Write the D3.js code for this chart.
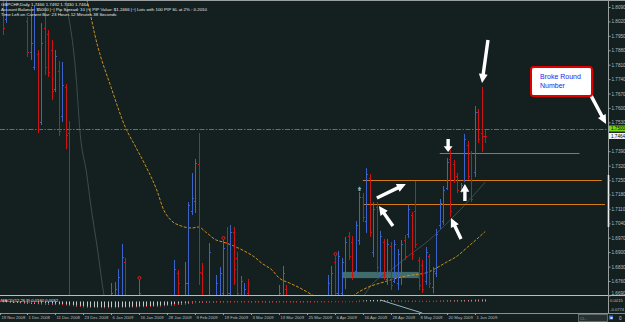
<!DOCTYPE html>
<html>
<head>
<meta charset="utf-8">
<script src="https://cdn.jsdelivr.net/npm/d3@7"></script>
<style>
html,body{margin:0;padding:0;background:#142020;}
svg{display:block;}
text{font-family:"Liberation Sans",Arial,sans-serif;}
</style>
</head>
<body>
<div id="chart"></div>
<script>
// GBPCHF daily, one bar per trading day from 19 Nov 2008 (bar 0) to 4 Jun 2009 (bar 139)
var opens = [
1.8300,1.8150,1.8030,1.8200,1.8300,1.8390,1.8280,1.8180,1.8020,1.7870,
1.7800,1.7860,1.7530,1.7990,1.7960,1.7880,1.7690,1.7780,1.7560,1.7700,
1.7480,1.6600,1.6400,1.6250,1.6100,1.6200,1.6050,1.5900,1.6050,1.6200,
1.6350,1.6500,1.6400,1.6450,1.6500,1.6600,1.6850,1.6550,1.6400,1.6500,
1.6500,1.6650,1.6450,1.6300,1.6150,1.6250,1.6350,1.6300,1.6400,1.6500,
1.6600,1.6800,1.6650,1.6520,1.6750,1.7100,1.7150,1.7330,1.6800,1.6650,
1.6550,1.6650,1.6500,1.6600,1.6700,1.6950,1.6700,1.7000,1.6870,1.6550,
1.6500,1.6700,1.6450,1.6350,1.6250,1.6300,1.6200,1.6100,1.6250,1.6400,
1.6550,1.6650,1.6720,1.6500,1.6350,1.6200,1.6100,1.6000,1.6100,1.6200,
1.6150,1.6250,1.6350,1.6450,1.6550,1.6650,1.6850,1.6700,1.6700,1.6780,
1.6980,1.6950,1.6810,1.6960,1.7170,1.7050,1.7260,1.6900,1.7120,1.6800,
1.6950,1.6770,1.6930,1.6760,1.6750,1.6800,1.6960,1.6990,1.7080,1.7100,
1.6860,1.6840,1.6760,1.6880,1.6730,1.6800,1.7030,1.7050,1.7210,1.7350,
1.7330,1.7270,1.7195,1.7250,1.7420,1.7380,1.7290,1.7580,1.7480,1.7466];
var highs = [
1.8400,1.8200,1.8180,1.8350,1.8420,1.8450,1.8380,1.8300,1.8041,1.8090,
1.8100,1.7881,1.8012,1.8090,1.7978,1.7930,1.7881,1.7828,1.7823,1.7716,
1.7536,1.6650,1.6500,1.6400,1.6300,1.6350,1.6200,1.6100,1.6250,1.6400,
1.6550,1.6640,1.6750,1.6755,1.6818,1.6940,1.6872,1.6660,1.6600,1.6650,
1.6765,1.6670,1.6550,1.6400,1.6300,1.6400,1.6500,1.6450,1.6550,1.6650,
1.6862,1.6813,1.6670,1.6852,1.7143,1.7284,1.7352,1.7478,1.6847,1.6670,
1.6944,1.6670,1.6789,1.6828,1.6959,1.7022,1.7032,1.7022,1.6901,1.6784,
1.6750,1.6770,1.6600,1.6500,1.6400,1.6450,1.6350,1.6300,1.6450,1.6600,
1.6741,1.6833,1.6741,1.6600,1.6450,1.6350,1.6250,1.6150,1.6250,1.6350,
1.6300,1.6400,1.6500,1.6600,1.6789,1.6833,1.6881,1.6906,1.6872,1.6974,
1.6998,1.6978,1.7051,1.7192,1.7187,1.7308,1.7279,1.7143,1.7143,1.7003,
1.6964,1.6964,1.6949,1.6959,1.6915,1.6959,1.6983,1.7129,1.7095,1.7245,
1.6876,1.6862,1.6925,1.6891,1.6828,1.7013,1.7158,1.7221,1.7357,1.7396,
1.7347,1.7284,1.7236,1.7474,1.7440,1.7391,1.7609,1.7595,1.7702,1.7492];
var lows = [
1.8140,1.7954,1.8012,1.8140,1.8200,1.8250,1.8150,1.8130,1.7847,1.7833,
1.7784,1.7478,1.7517,1.7760,1.7750,1.7639,1.7677,1.7464,1.7532,1.7400,
1.6550,1.6350,1.6200,1.6050,1.5950,1.6000,1.5850,1.5800,1.5950,1.6100,
1.6250,1.6300,1.6350,1.6400,1.6450,1.6550,1.6500,1.6350,1.6300,1.6400,
1.6450,1.6400,1.6250,1.6100,1.6000,1.6150,1.6200,1.6150,1.6300,1.6400,
1.6500,1.6550,1.6450,1.6480,1.6650,1.7080,1.7090,1.6741,1.6600,1.6400,
1.6500,1.6450,1.6450,1.6500,1.6600,1.6600,1.6600,1.6741,1.6600,1.6500,
1.6450,1.6400,1.6300,1.6200,1.6100,1.6150,1.6050,1.6000,1.6150,1.6300,
1.6450,1.6550,1.6450,1.6300,1.6150,1.6050,1.5950,1.5850,1.5950,1.6050,
1.6000,1.6150,1.6250,1.6350,1.6450,1.6550,1.6600,1.6600,1.6650,1.6720,
1.6862,1.6765,1.6789,1.6935,1.7046,1.6993,1.6974,1.6876,1.6799,1.6779,
1.6765,1.6741,1.6716,1.6750,1.6716,1.6741,1.6862,1.6969,1.6862,1.6920,
1.6716,1.6702,1.6741,1.6726,1.6700,1.6779,1.7013,1.7032,1.7202,1.7071,
1.7236,1.7187,1.7187,1.7240,1.7250,1.7143,1.7265,1.7430,1.7386,1.7430];
var closes = [
1.8180,1.7990,1.8150,1.8300,1.8390,1.8280,1.8180,1.8250,1.7870,1.7915,
1.8050,1.7500,1.7915,1.7800,1.7774,1.7680,1.7850,1.7490,1.7711,1.7470,
1.6650,1.6400,1.6250,1.6100,1.6200,1.6050,1.5900,1.6050,1.6200,1.6350,
1.6500,1.6380,1.6700,1.6720,1.6780,1.6876,1.6550,1.6400,1.6500,1.6600,
1.6700,1.6450,1.6300,1.6150,1.6250,1.6350,1.6300,1.6400,1.6500,1.6600,
1.6820,1.6750,1.6500,1.6750,1.7130,1.7163,1.7333,1.6804,1.6650,1.6550,
1.6900,1.6500,1.6750,1.6800,1.6920,1.6700,1.7000,1.6818,1.6700,1.6760,
1.6720,1.6450,1.6350,1.6250,1.6300,1.6200,1.6100,1.6250,1.6400,1.6550,
1.6700,1.6800,1.6500,1.6350,1.6200,1.6100,1.6000,1.6100,1.6200,1.6150,
1.6250,1.6350,1.6450,1.6550,1.6750,1.6800,1.6700,1.6880,1.6850,1.6950,
1.6880,1.6790,1.7030,1.7170,1.7070,1.7280,1.7000,1.7110,1.6830,1.6980,
1.6790,1.6940,1.6740,1.6940,1.6890,1.6940,1.6880,1.7110,1.6890,1.6940,
1.6740,1.6720,1.6900,1.6750,1.6810,1.6990,1.7140,1.7200,1.7340,1.7100,
1.7250,1.7200,1.7225,1.7450,1.7270,1.7160,1.7580,1.7450,1.7466,1.7464];

// moving averages (bar index, price) read where they are visible
var orangeMaBars = [22,25,28,32,36,39,42,45,47,49,52,55,57,59,62,64,67,70,73,75,78,80,83,86,89,92,96,100,102,105,110,114,118,122,128,131,134,137,139];
var orangeMaValues = [1.8270,1.8124,1.7906,1.7697,1.7507,1.7410,1.7313,1.7202,1.7105,1.7056,1.7027,1.7017,1.7022,1.6998,1.6959,1.6949,1.6930,1.6906,1.6876,1.6847,1.6813,1.6775,1.6750,1.6726,1.6697,1.6668,1.6648,1.6668,1.6697,1.6726,1.6755,1.6775,1.6789,1.6799,1.6852,1.6881,1.6925,1.6969,1.7000];
var grayLeftBars = [17,19,22,23,25,26,28,30,31];
var grayLeftValues = [1.8320,1.8124,1.7736,1.7493,1.7275,1.7143,1.6920,1.6682,1.6600];
var grayRightBars = [103,106,112,117,123,129,135,139];
var grayRightValues = [1.6650,1.6731,1.6813,1.6881,1.6959,1.7056,1.7163,1.7240];

// MACD(12,26,9): main histogram and signal
var macdMain = [
-0.004,-0.006,-0.007,-0.009,-0.011,-0.012,-0.014,-0.016,-0.018,-0.019,
-0.020,-0.022,-0.023,-0.024,-0.025,-0.026,-0.027,-0.028,-0.029,-0.030,
-0.034,-0.038,-0.042,-0.045,-0.047,-0.049,-0.051,-0.052,-0.052,-0.052,
-0.051,-0.050,-0.049,-0.048,-0.047,-0.047,-0.046,-0.046,-0.046,-0.045,
-0.044,-0.044,-0.044,-0.044,-0.043,-0.042,-0.040,-0.038,-0.036,-0.034,
-0.031,-0.028,-0.026,-0.023,-0.019,-0.016,-0.013,-0.011,-0.010,-0.009,
-0.008,-0.008,-0.007,-0.007,-0.006,-0.006,-0.006,-0.005,-0.005,-0.005,
-0.005,-0.005,-0.006,-0.006,-0.006,-0.006,-0.007,-0.007,-0.006,-0.006,
-0.005,-0.005,-0.005,-0.005,-0.006,-0.006,-0.006,-0.006,-0.006,-0.005,
-0.005,-0.004,-0.004,-0.003,-0.003,-0.002,-0.002,-0.001,-0.001,0.000,
0.001,0.002,0.004,0.006,0.008,0.010,0.011,0.012,0.012,0.011,
0.010,0.009,0.008,0.007,0.006,0.005,0.005,0.005,0.005,0.005,
0.004,0.004,0.004,0.004,0.004,0.005,0.006,0.007,0.008,0.009,
0.010,0.010,0.011,0.012,0.012,0.013,0.014,0.015,0.016,0.016];
var macdSignal = [
0.010,0.008,0.006,0.004,0.002,0.000,-0.002,-0.004,-0.006,-0.008,
-0.010,-0.012,-0.014,-0.016,-0.018,-0.020,-0.022,-0.024,-0.026,-0.028,
-0.030,-0.033,-0.036,-0.039,-0.042,-0.045,-0.047,-0.049,-0.050,-0.051,
-0.052,-0.052,-0.052,-0.051,-0.050,-0.049,-0.048,-0.047,-0.046,-0.046,
-0.045,-0.044,-0.043,-0.042,-0.040,-0.038,-0.036,-0.034,-0.031,-0.028,
-0.025,-0.022,-0.019,-0.016,-0.013,-0.010,-0.008,-0.006,-0.005,-0.004,
-0.004,-0.004,-0.004,-0.004,-0.004,-0.004,-0.004,-0.004,-0.004,-0.004,
-0.004,-0.004,-0.004,-0.004,-0.004,-0.004,-0.004,-0.004,-0.004,-0.004,
-0.004,-0.004,-0.004,-0.004,-0.004,-0.004,-0.004,-0.004,-0.004,-0.004,
-0.004,-0.004,-0.004,-0.004,-0.003,-0.003,-0.003,-0.003,-0.003,-0.003,
-0.002,-0.002,-0.002,-0.002,-0.001,-0.001,0.000,0.000,0.001,0.001,
0.002,0.002,0.002,0.002,0.002,0.002,0.002,0.002,0.002,0.002,
0.002,0.002,0.002,0.002,0.002,0.002,0.002,0.003,0.003,0.003,
0.003,0.003,0.003,0.003,0.003,0.003,0.003,0.003,0.003,0.003];
var macdTrend = [[109, 0.012], [121, -0.094]];
var macdLabels = ["0.0015", "-0.0774"];
var macdTitle = "MACD(12,26,9) 0.0160 0.0032";

// drawn objects
var roundLevel = 1.7500;
var bidPrice = 1.7464;
var blueLevel = {price: 1.7381, from: 126, to: 166};
var orangeLevels = [{price: 1.7248, from: 104, to: 172.4}, {price: 1.7134, from: 104, to: 173.3}];
var zoneBox = {from: 98, to: 120, top: 1.6804, bottom: 1.6774};
var circleBars = [40, 64, 96];
var tealMarkBar = 103;
var arrowTails = [[139.8,1.7930],[128.4,1.7449],[108.0,1.7163],[112.6,1.7027],[133.2,1.7148],[132.1,1.6964],[169.3,1.7660]];
var arrowHeads = [[138.1,1.7721],[128.4,1.7386],[116.3,1.7231],[108.6,1.7124],[133.2,1.7231],[129.2,1.7066],[173.6,1.7522]];
var calloutLines = ["Broke Round", "Number"];

var priceTicks = [1.8090,1.8020,1.7950,1.7880,1.7810,1.7740,1.7670,1.7600,1.7530,1.7460,1.7390,1.7320,1.7250,1.7180,1.7110,1.7040,1.6970,1.6900,1.6830,1.6760,1.6690];
var dateLabels = ["19 Nov 2008","1 Dec 2008","11 Dec 2008","23 Dec 2008","6 Jan 2009","16 Jan 2009","28 Jan 2009","9 Feb 2009","19 Feb 2009","3 Mar 2009","13 Mar 2009","25 Mar 2009","6 Apr 2009","16 Apr 2009","28 Apr 2009","8 May 2009","20 May 2009","1 Jun 2009"];
var headerLines = [
  "GBPCHF,Daily  1.7466 1.7492 1.7430 1.7464",
  "Account Balance: $5000 |~| Pip Spread: 10 |~| PIP Value: $1.2466 |~| Lots with 100 PIP SL at 2% : 0.2010",
  "Time Left on Current Bar: 23 Hours 12 Minutes 38 Seconds"
];

var W = 625, H = 322, plotR = 608, mainB = 295, macdT = 296, macdB = 312, timeT = 313;
var bg = '#142020', upColor = '#3e62cc', downColor = '#cc1414', axisColor = '#b8bcbc';

var svg = d3.select("#chart").append("svg").attr("width", W).attr("height", H);
svg.append("rect").attr("width", W).attr("height", H).attr("fill", bg);
var defs = svg.append("defs");
defs.append("clipPath").attr("id", "mainClip").append("rect")
    .attr("x", 0).attr("y", 0).attr("width", plotR).attr("height", mainB);
defs.append("clipPath").attr("id", "fullClip").append("rect")
    .attr("x", 0).attr("y", 0).attr("width", W).attr("height", mainB);
defs.append("clipPath").attr("id", "macdClip").append("rect")
    .attr("x", 0).attr("y", macdT).attr("width", plotR).attr("height", timeT - macdT);

var x = d3.scaleLinear().domain([0, 174]).range([-0.5, -0.5 + 174 * 3.494]);
var y = d3.scaleLinear().domain([1.6690, 1.8124]).range([295.4, 0]);
var yM = d3.scaleLinear().domain([-0.0774, 0.0315]).range([311, 297.6]);
function px(i){ return Math.round(x(i)) + 0.5; }

var main = svg.append("g").attr("clip-path", "url(#mainClip)");

// zone rectangle
main.append("rect")
    .attr("x", x(zoneBox.from)).attr("y", y(zoneBox.top))
    .attr("width", x(zoneBox.to) - x(zoneBox.from)).attr("height", y(zoneBox.bottom) - y(zoneBox.top))
    .attr("fill", "#4f8584").attr("opacity", 0.75);

// moving averages
var maLine = d3.line().curve(d3.curveMonotoneX)
    .x(function(d){ return x(d[0]); }).y(function(d){ return y(d[1]); });
main.append("path").datum(d3.zip(grayLeftBars, grayLeftValues)).attr("d", maLine)
    .attr("fill", "none").attr("stroke", "#3c4c4c").attr("stroke-width", 1);
main.append("path").datum(d3.zip(grayRightBars, grayRightValues)).attr("d", maLine)
    .attr("fill", "none").attr("stroke", "#3c4c4c").attr("stroke-width", 1);
main.append("path").datum(d3.zip(orangeMaBars, orangeMaValues)).attr("d", maLine)
    .attr("fill", "none").attr("stroke", "#c8921e").attr("stroke-width", 1)
    .attr("stroke-dasharray", "3,1.5");

// horizontal levels
main.append("line").attr("x1", 0).attr("x2", plotR)
    .attr("y1", Math.round(y(roundLevel)) + 0.5).attr("y2", Math.round(y(roundLevel)) + 0.5)
    .attr("stroke", "#4a8c1c").attr("stroke-width", 1).attr("stroke-dasharray", "5,1.5,1.5,1.5");
main.append("line").attr("x1", x(blueLevel.from)).attr("x2", x(blueLevel.to))
    .attr("y1", Math.round(y(blueLevel.price)) + 0.5).attr("y2", Math.round(y(blueLevel.price)) + 0.5)
    .attr("stroke", "#4c86bc").attr("stroke-width", 1);
main.selectAll(".olevel").data(orangeLevels).enter().append("line").attr("class", "olevel")
    .attr("x1", function(d){ return x(d.from); }).attr("x2", function(d){ return x(d.to); })
    .attr("y1", function(d){ return Math.round(y(d.price)) + 0.5; })
    .attr("y2", function(d){ return Math.round(y(d.price)) + 0.5; })
    .attr("stroke", "#d47a16").attr("stroke-width", 1);

// OHLC bars
var bars = main.selectAll(".bar").data(d3.range(opens.length)).enter().append("g").attr("class", "bar")
    .attr("stroke", function(i){ return closes[i] > opens[i] ? upColor : downColor; })
    .attr("stroke-width", 1);
bars.append("line")
    .attr("x1", px).attr("x2", px)
    .attr("y1", function(i){ return y(highs[i]); }).attr("y2", function(i){ return y(lows[i]); });
bars.append("line")
    .attr("x1", function(i){ return px(i) - 1.5; }).attr("x2", px)
    .attr("y1", function(i){ return Math.round(y(opens[i])) + 0.5; })
    .attr("y2", function(i){ return Math.round(y(opens[i])) + 0.5; });
bars.append("line")
    .attr("x1", px).attr("x2", function(i){ return px(i) + 1.5; })
    .attr("y1", function(i){ return Math.round(y(closes[i])) + 0.5; })
    .attr("y2", function(i){ return Math.round(y(closes[i])) + 0.5; });

// markers
main.selectAll(".circ").data(circleBars).enter().append("circle").attr("class", "circ")
    .attr("cx", px).attr("cy", function(i){ return y(highs[i]) - 2; }).attr("r", 1.5)
    .attr("fill", "none").attr("stroke", "#e02424").attr("stroke-width", 0.9);
var tx = px(tealMarkBar), ty = y(highs[tealMarkBar]) - 3;
main.append("path")
    .attr("d", "M" + tx + "," + (ty - 2.5) + "L" + (tx + 2) + "," + ty + "L" + (tx + 1) + "," + ty +
               "L" + (tx + 1) + "," + (ty + 2) + "L" + (tx - 1) + "," + (ty + 2) + "L" + (tx - 1) + "," + ty +
               "L" + (tx - 2) + "," + ty + "Z")
    .attr("fill", "#7fb0b0");

// header text
svg.selectAll(".hdr").data(headerLines).enter().append("text").attr("class", "hdr")
    .attr("x", 1).attr("y", function(d, k){ return 5.5 + k * 5; })
    .attr("font-size", "4.4px").attr("fill", "#e6e6e6").text(function(d){ return d; });

// white annotation arrows
function arrowPoints(x1, y1, x2, y2){
    var dx = x2 - x1, dy = y2 - y1, len = Math.sqrt(dx * dx + dy * dy);
    var ux = dx / len, uy = dy / len, nx = -uy, ny = ux;
    var hl = Math.min(9, len * 0.45), hw = 4.4, sw = 1.7;
    var bx = x2 - ux * hl, by = y2 - uy * hl;
    return [[x1 + nx * sw, y1 + ny * sw], [bx + nx * sw, by + ny * sw], [bx + nx * hw, by + ny * hw], [x2, y2],
            [bx - nx * hw, by - ny * hw], [bx - nx * sw, by - ny * sw], [x1 - nx * sw, y1 - ny * sw]];
}
var arrowsG = svg.append("g").attr("clip-path", "url(#fullClip)");
arrowsG.selectAll(".arr").data(d3.zip(arrowTails, arrowHeads)).enter().append("polygon").attr("class", "arr")
    .attr("points", function(d){
        return arrowPoints(x(d[0][0]), y(d[0][1]), x(d[1][0]), y(d[1][1])).map(function(p){ return p.join(","); }).join(" ");
    })
    .attr("fill", "#ffffff");

// callout
var call = svg.append("g");
call.append("rect").attr("x", 531).attr("y", 67).attr("width", 61).attr("height", 29).attr("rx", 2.5)
    .attr("fill", "#ffffff").attr("stroke", "#e00000").attr("stroke-width", 2);
call.selectAll("text").data(calloutLines).enter().append("text")
    .attr("x", 540).attr("y", function(d, k){ return 78.5 + k * 9; })
    .attr("font-size", "7px").attr("fill", "#1c1cf0").text(function(d){ return d; });

// MACD pane
var macd = svg.append("g").attr("clip-path", "url(#macdClip)");
macd.selectAll(".hist").data(macdMain).enter().append("line").attr("class", "hist")
    .attr("x1", function(d, i){ return px(i); }).attr("x2", function(d, i){ return px(i); })
    .attr("y1", yM(0)).attr("y2", function(d){ return yM(d); })
    .attr("stroke", "#c4c8c8").attr("stroke-width", 1);
macd.selectAll(".sig").data(macdSignal).enter().append("rect").attr("class", "sig")
    .attr("x", function(d, i){ return px(i) - 0.5; }).attr("y", function(d){ return yM(d) - 0.5; })
    .attr("width", 1).attr("height", 1).attr("fill", "#e01c1c");
macd.append("line")
    .attr("x1", x(macdTrend[0][0])).attr("y1", yM(macdTrend[0][1]))
    .attr("x2", x(macdTrend[1][0])).attr("y2", yM(macdTrend[1][1]))
    .attr("stroke", "#8fb4c4").attr("stroke-width", 1);
svg.append("text").attr("x", 1).attr("y", 301.5).attr("font-size", "4.2px").attr("fill", "#e6e6e6").text(macdTitle);
svg.selectAll(".mlab").data(macdLabels).enter().append("text").attr("class", "mlab")
    .attr("x", 610).attr("y", function(d, k){ return k === 0 ? 302.4 : 311.2; })
    .attr("font-size", "4.2px").attr("fill", axisColor).text(function(d){ return d; });

// frame lines
svg.append("line").attr("x1", 0).attr("x2", W).attr("y1", 0.5).attr("y2", 0.5).attr("stroke", "#9aa0a0");
svg.append("line").attr("x1", 0).attr("x2", W).attr("y1", mainB + 0.5).attr("y2", mainB + 0.5).attr("stroke", "#b8bcbc");
svg.append("line").attr("x1", 0).attr("x2", W).attr("y1", timeT + 0.5).attr("y2", timeT + 0.5).attr("stroke", "#8a9090");
svg.append("line").attr("x1", plotR + 0.5).attr("x2", plotR + 0.5).attr("y1", 0).attr("y2", timeT).attr("stroke", "#9aa0a0");
svg.append("line").attr("x1", plotR + 0.5).attr("x2", plotR + 0.5).attr("y1", 175).attr("y2", 227)
    .attr("stroke", "#f0f0f0").attr("stroke-width", 1.6);

// price axis
var yAxis = svg.append("g").attr("transform", "translate(" + (plotR + 0.5) + ",0)")
    .call(d3.axisRight(y).tickValues(priceTicks).tickSize(2).tickPadding(1).tickFormat(d3.format(".4f")));
yAxis.select(".domain").remove();
yAxis.selectAll("line").attr("stroke", "#9aa0a0");
yAxis.selectAll("text").attr("font-size", "4.6px").attr("fill", axisColor)
    .attr("font-family", '"Liberation Sans",Arial,sans-serif');
yAxis.selectAll(".tick").filter(function(d){ return d < 1.6700; }).select("text").attr("dy", "-0.1em");

// level labels on the axis
function axisTag(price, fill){
    var g = svg.append("g");
    g.append("rect").attr("x", 609).attr("y", y(price) - 3).attr("width", 16).attr("height", 6).attr("fill", fill);
    g.append("text").attr("x", 611).attr("y", y(price) + 1.7).attr("font-size", "4.6px").attr("fill", "#000")
        .text(d3.format(".4f")(price));
}
axisTag(roundLevel, "#78d414");
axisTag(bidPrice, "#f4f4f4");

// time axis
var tg = svg.append("g");
tg.selectAll(".dt").data(dateLabels).enter().append("line").attr("class", "dt")
    .attr("x1", function(d, k){ return px(k * 8); }).attr("x2", function(d, k){ return px(k * 8); })
    .attr("y1", timeT).attr("y2", timeT + 2).attr("stroke", "#9aa0a0");
tg.selectAll(".dl").data(dateLabels).enter().append("text").attr("class", "dl")
    .attr("x", function(d, k){ return px(k * 8) + 1; }).attr("y", 319.2)
    .attr("font-size", "4.2px").attr("fill", axisColor).text(function(d){ return d; });

// bottom right control
svg.append("rect").attr("x", 578.5).attr("y", 314.5).attr("width", 29).attr("height", 7)
    .attr("fill", "#263030").attr("stroke", "#707a7a").attr("stroke-width", 0.8);
svg.append("text").attr("x", 580).attr("y", 319.8).attr("font-size", "4px").attr("fill", "#8a9494").text("Cl...");
svg.append("rect").attr("x", 609).attr("y", 315.5).attr("width", 4).attr("height", 4).attr("fill", "#3a6ad8");
svg.append("rect").attr("x", 610.5).attr("y", 317).attr("width", 2).attr("height", 2).attr("fill", "#d8e8ff");
svg.append("text").attr("x", 619).attr("y", 320).attr("font-size", "4.6px").attr("fill", "#c8c8c8").text("0");
</script>
</body>
</html>
